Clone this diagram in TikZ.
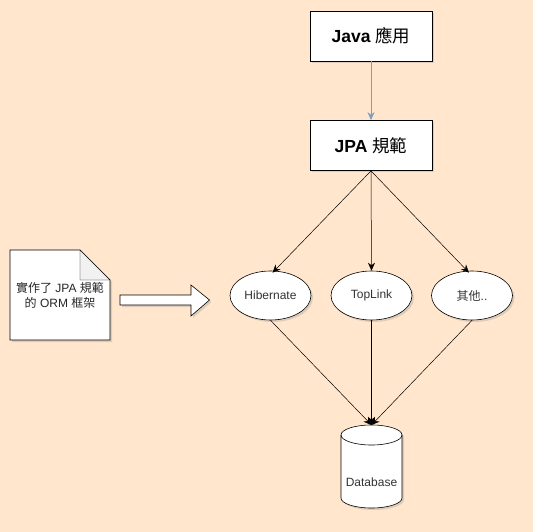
\documentclass[tikz,border=0pt]{standalone}
\usepackage{fontspec}
\setmainfont{Liberation Sans}
\newfontfamily\cjk{Noto Sans CJK TC}
\usetikzlibrary{arrows.meta,shadows,shapes.geometric}
\definecolor{bgc}{HTML}{FFE6CC}
\definecolor{blueline}{HTML}{7F9CC4}
\definecolor{foldc}{HTML}{F1F1F1}
\begin{document}
\begin{tikzpicture}[x=1pt,y=-1pt,
  shd/.style={drop shadow={opacity=0.25,shadow xshift=2pt,shadow yshift=-2pt}},
  box/.style={draw=black,fill=white,line width=0.8pt,minimum width=122pt,minimum height=50pt,inner sep=0pt,shd,font=\fontsize{17.5}{20}\selectfont\bfseries},
  oval/.style={ellipse,draw=black,fill=white,line width=0.6pt,minimum width=81pt,minimum height=49pt,inner sep=0pt,shd,font=\fontsize{12}{14}\selectfont,text=black!80},
  conn/.style={draw=black,line width=0.5pt,-{Stealth[length=8pt,width=7pt]}},
  sconn/.style={draw=blueline,line width=0.8pt,-{Stealth[length=8pt,width=7pt]}}
]
\fill[bgc] (0,0) rectangle (533,532);
\useasboundingbox (0,0) rectangle (533,532);

\node[box] (java) at (371,36) {Java {\cjk\mdseries 應用}};
\node[box] (jpa) at (371,145.5) {JPA {\cjk\mdseries 規範}};

\node[oval] (hib) at (270.5,295.5) {Hibernate};
\node[oval] (top) at (371.5,295.5) {TopLink};
\node[oval] (oth) at (472,295.5) {{\cjk 其他}..};

% database cylinder
\filldraw[fill=white,draw=black,line width=0.6pt,shd]
  (341,435) -- (341,498) arc[start angle=180,end angle=0,x radius=30.5,y radius=10]
  -- (402,435) arc[start angle=360,end angle=180,x radius=30.5,y radius=10] -- cycle;
\draw[line width=0.6pt] (341,435) arc[start angle=180,end angle=0,x radius=30.5,y radius=10];
\coordinate (dbtop) at (371.5,425);
\node[font=\fontsize{12}{14}\selectfont,text=black!80] (db) at (371.5,482) {Database};

% document note
\filldraw[fill=white,draw=black,line width=0.6pt,shd]
  (10,250) -- (80,250) -- (110,280) -- (110,340) -- (10,340) -- cycle;
\filldraw[fill=foldc,draw=black,line width=0.4pt] (80,250) -- (80,280) -- (110,280) -- cycle;
\node[align=center,font=\fontsize{12}{15}\selectfont,text=black!85] (doc) at (60,295)
  {{\cjk 實作了} JPA {\cjk 規範}\\{\cjk 的} ORM {\cjk 框架}};

% block arrow
\filldraw[fill=white,draw=black,line width=0.6pt,shd]
  (120,295) -- (191,295) -- (191,285) -- (209.5,300) -- (191,316) -- (191,305) -- (120,305) -- cycle;

% connectors
\draw[sconn] (java.south) -- (jpa.north);
\draw[conn] (jpa.south) -- ([xshift=2pt,yshift=-2pt]hib.north);
\draw[conn] (jpa.south) -- (top.north);
\draw[conn] (jpa.south) -- ([xshift=-3pt,yshift=-2pt]oth.north);
\draw[conn] (hib.south) -- (dbtop);
\draw[conn] (top.south) -- (dbtop);
\draw[conn] (oth.south) -- (dbtop);
\end{tikzpicture}
\end{document}
